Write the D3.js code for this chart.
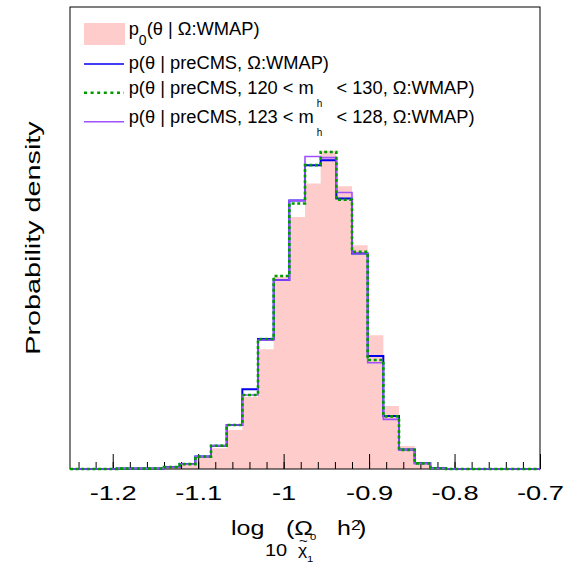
<!DOCTYPE html>
<html>
<head>
<meta charset="utf-8">
<script src="https://cdn.jsdelivr.net/npm/d3@7"></script>
<style>
    html, body { margin: 0; padding: 0; background: #fff; }
    svg { display: block; font-family: "Liberation Sans", Arial, Helvetica, sans-serif; }
</style>
</head>
<body>
<svg id="chart" width="566" height="564"></svg>
<script>
(function (window) {
    'use strict';

    // histogram binning : 30 bins over the axis range
    var xMin = -1.25, xMax = -0.7, nBins = 30;

    var prior  = [0, 0.01, 0.01, 0.02, 0.03, 0.04, 0.04, 0.11, 0.29, 0.55, 1.04, 1.92, 3.19, 5.11, 6.71,
                  7.60, 8.47, 7.53, 5.96, 3.56, 1.68, 0.61, 0.17, 0.03, 0.01, 0, 0, 0, 0, 0];
    var preCMS = [0, 0, 0, 0.01, 0.01, 0.01, 0.05, 0.13, 0.33, 0.62, 1.17, 2.12, 3.46, 5.03, 7.15,
                  8.09, 8.22, 7.20, 5.74, 3.01, 1.41, 0.52, 0.15, 0.02, 0, 0, 0, 0, 0, 0];
    var mh120  = [0, 0, 0, 0.01, 0.01, 0.01, 0.05, 0.13, 0.33, 0.62, 1.17, 1.97, 3.46, 5.14, 7.07,
                  8.09, 8.44, 7.17, 5.78, 2.90, 1.40, 0.51, 0.15, 0.02, 0, 0, 0, 0, 0, 0];
    var mh123  = [0, 0, 0, 0.01, 0.01, 0.01, 0.05, 0.13, 0.33, 0.62, 1.17, 1.97, 3.43, 5.03, 7.15,
                  8.32, 8.29, 7.36, 5.75, 2.83, 1.32, 0.51, 0.15, 0.02, 0, 0, 0, 0, 0, 0];

    var majorTicks  = [-1.2, -1.1, -1, -0.9, -0.8, -0.7];
    var majorLabels = ['-1.2', '-1.1', '-1', '-0.9', '-0.8', '-0.7'];
    var yMax = 12.3;

    var left = 70, right = 540, top = 7, bottom = 469;
    var binWidth = (xMax - xMin) / nBins;

    var svg = d3.select('#chart');

    var x = d3.scaleLinear().domain([xMin, xMax]).range([left, right]);
    var y = d3.scaleLinear().domain([0, yMax]).range([bottom, top]);

    var toPoints = function (vals) {
        var pts = vals.map(function (v, i) { return [xMin + i * binWidth, v]; });
        pts.push([xMax, vals[vals.length - 1]]);
        return pts;
    };

    // prior, filled
    var area = d3.area()
        .curve(d3.curveStepAfter)
        .x(function (d) { return x(d[0]); })
        .y0(y(0))
        .y1(function (d) { return y(d[1]); });

    svg.append('path')
        .attr('d', area(toPoints(prior)))
        .attr('fill', '#ffcccc');

    // axis ticks (inside, pointing up)
    var minorTicks = d3.range(-1.24, -0.699, 0.02);
    var gMinor = svg.append('g')
        .attr('transform', 'translate(0,' + bottom + ')')
        .call(d3.axisBottom(x).tickValues(minorTicks).tickSize(-7).tickSizeOuter(0).tickFormat(''));
    gMinor.select('.domain').remove();

    var gMajor = svg.append('g')
        .attr('transform', 'translate(0,' + bottom + ')')
        .call(d3.axisBottom(x).tickValues(majorTicks).tickSize(-15).tickSizeOuter(0)
            .tickFormat(function (d, i) { return majorLabels[i]; }));
    gMajor.select('.domain').remove();
    gMajor.attr('font-size', null).attr('font-family', null);
    gMajor.selectAll('text')
        .attr('y', 31)
        .attr('dy', null)
        .attr('font-size', 21)
        .attr('transform', 'scale(1.3,1)');

    // frame
    svg.append('rect')
        .attr('x', left).attr('y', top)
        .attr('width', right - left).attr('height', bottom - top)
        .attr('fill', 'none')
        .attr('stroke', '#000')
        .attr('stroke-width', 1);

    // outlines
    var line = d3.line()
        .curve(d3.curveStepAfter)
        .x(function (d) { return x(d[0]); })
        .y(function (d) { return y(d[1]); });

    var series = [
        {vals: preCMS, color: '#0000ee', width: 2,   dash: null},
        {vals: mh123,  color: '#a050ff', width: 1.6, dash: null},
        {vals: mh120,  color: '#009a00', width: 2.6, dash: '3,2.6'}
    ];
    svg.selectAll('path.hist')
        .data(series)
        .enter()
        .append('path')
        .attr('class', 'hist')
        .attr('d', function (d) { return line(toPoints(d.vals)); })
        .attr('fill', 'none')
        .attr('stroke', function (d) { return d.color; })
        .attr('stroke-width', function (d) { return d.width; })
        .attr('stroke-dasharray', function (d) { return d.dash; });

    // legend
    var lg = svg.append('g').attr('font-size', 18.3);
    lg.append('rect').attr('x', 84).attr('y', 23).attr('width', 41).attr('height', 22).attr('fill', '#ffcccc');
    lg.append('line').attr('x1', 84).attr('x2', 124).attr('y1', 64).attr('y2', 64)
        .attr('stroke', '#0000ee').attr('stroke-width', 1.6);
    lg.append('line').attr('x1', 84).attr('x2', 124).attr('y1', 92.7).attr('y2', 92.7)
        .attr('stroke', '#009a00').attr('stroke-width', 2.6).attr('stroke-dasharray', '3,3.6');
    lg.append('line').attr('x1', 84).attr('x2', 124).attr('y1', 121.7).attr('y2', 121.7)
        .attr('stroke', '#a050ff').attr('stroke-width', 1.5);

    var t1 = lg.append('text').attr('x', 128.7).attr('y', 35);
    t1.append('tspan').text('p');
    t1.append('tspan').attr('font-size', 14).attr('dy', 10).text('0');
    t1.append('tspan').attr('dy', -10).text('(\u03b8 | \u03a9:WMAP)');

    lg.append('text').attr('x', 128.7).attr('y', 68.5).text('p(\u03b8 | preCMS, \u03a9:WMAP)');

    var mhLines = [
        {lo: '120', hi: '130', base: 94},
        {lo: '123', hi: '128', base: 123}
    ];
    mhLines.forEach(function (m) {
        var t = lg.append('text').attr('x', 128.7).attr('y', m.base);
        t.append('tspan').text('p(\u03b8 | preCMS, ' + m.lo + ' < m');
        t.append('tspan').attr('font-size', 10).attr('dx', 3).attr('dy', 12.5).text('h');
        t.append('tspan').attr('dx', 9).attr('dy', -12.5).text(' < ' + m.hi + ', \u03a9:WMAP)');
    });

    // x title, one text with positioned pieces (stretched like the original)
    var xTitle = [
        {t: 'log',      x: 0,    y: 0,  size: 20},
        {t: '10',       x: 27.2, y: 21, size: 16},
        {t: '(\u03a9',  x: 44,   y: 0,  size: 20},
        {t: '\u03c7',   x: 53.6, y: 20, size: 14},
        {t: '~',        x: 54.4, y: 10, size: 12},
        {t: '0',        x: 63.2, y: 5,  size: 9},
        {t: '1',        x: 60.8, y: 27, size: 9},
        {t: 'h',        x: 84.8, y: 0,  size: 20},
        {t: '2',        x: 96,   y: -5, size: 14},
        {t: ')',        x: 101.6, y: 0, size: 20}
    ];
    svg.append('text')
        .attr('transform', 'translate(231,535) scale(1.25,1)')
        .selectAll('tspan')
        .data(xTitle)
        .enter()
        .append('tspan')
        .attr('x', function (d) { return d.x; })
        .attr('y', function (d) { return d.y; })
        .attr('font-size', function (d) { return d.size; })
        .text(function (d) { return d.t; });

    svg.append('text')
        .attr('transform', 'translate(40,238) rotate(-90) scale(1.37,1)')
        .attr('font-size', 21)
        .attr('text-anchor', 'middle')
        .text('Probability density');

})(window);
</script>
</body>
</html>
